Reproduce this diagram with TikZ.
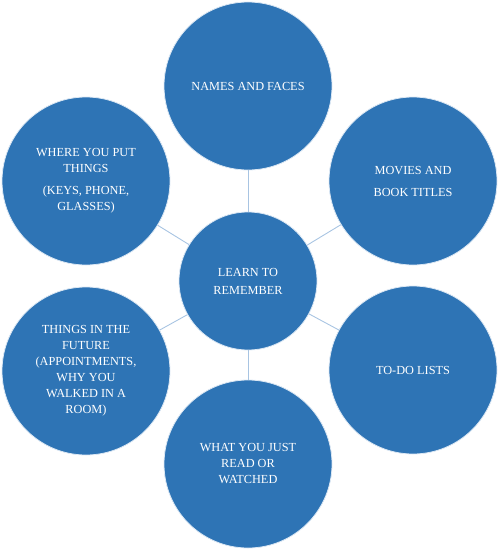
\documentclass[tikz,border=0pt]{standalone}
\usepackage{fontspec}
\setmainfont{Liberation Serif}
\usepackage{xcolor}
\usepackage{tikz}
\usetikzlibrary{positioning}
\definecolor{mblue}{HTML}{2E74B5}
\definecolor{mlink}{HTML}{A8C4E2}
\definecolor{medge}{HTML}{DCE8F4}
\begin{document}
\begin{tikzpicture}[
    x=1pt, y=-1pt,
    topic/.style={circle, fill=mblue, draw=medge, line width=0.8pt, minimum size=168pt, inner sep=0pt, text=white, align=center, font=\fontsize{12.3}{16}\selectfont},
    hub/.style={topic, minimum size=138pt},
    link/.style={draw=mlink, line width=0.9pt},
]
    \useasboundingbox (0,0) rectangle (500,551);
    \node[hub] (learn) at (248,281) {LEARN TO\\[2pt]REMEMBER};
    \node[topic] (names) at (248,86) {NAMES AND FACES};
    \node[topic] (movies) at (413,181) {MOVIES AND\\[6pt]BOOK TITLES};
    \node[topic] (todo) at (413,370) {TO-DO LISTS};
    \node[topic] (watched) at (248,464) {WHAT YOU JUST\\READ OR\\WATCHED};
    \node[topic] (future) at (86,371) {THINGS IN THE\\FUTURE\\(APPOINTMENTS,\\WHY YOU\\WALKED IN A\\ROOM)};
    \node[topic] (where) at (86,181) {WHERE YOU PUT\\THINGS\\[6pt](KEYS, PHONE,\\GLASSES)};
    \foreach \t in {names,movies,todo,watched,future,where}
        \draw[link] (learn) -- (\t);
\end{tikzpicture}
\end{document}
